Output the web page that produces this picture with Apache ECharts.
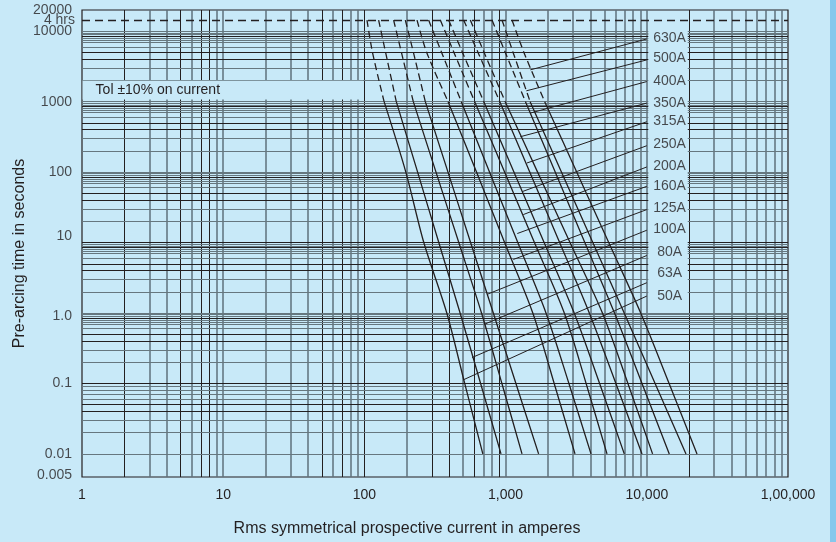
<!DOCTYPE html>
<html><head><meta charset="utf-8">
<script src="https://cdn.jsdelivr.net/npm/echarts@6/dist/echarts.min.js"></script>
<style>html,body{margin:0;padding:0;background:#c8e9f8;} #c{width:836px;height:542px;}</style>
</head><body><div id="c"></div>
<script>
// ---------- data ----------
const ratings = ['50A','63A','80A','100A','125A','160A','200A','250A','315A','350A','400A','500A','630A'];
const times = [14400, 5000, 1000, 100, 10, 1, 0.1, 0.01];   // pre-arcing time (s) at which currents are read
const c50  = [104.3,114.1,137.9,196.5,263.5,383.3,513.3,689.7];
const c63  = [126.1,141.3,168.2,238.2,336.4,476.1,665.3,927.8];
const c80  = [161.0,182.9,222.0,321.4,466.2,675.1,941.5,1307];
const c100 = [194.9,222.4,270.0,390.9,565.0,818.4,1183,1713];
const c125 = [235.9,276.2,391.5,622.2,983.8,1558,2209,3101];
const c160 = [284.9,352.2,485.5,769.1,1220,1932,2808,4025];
const c200 = [344.9,430.5,604.2,983.8,1600,2604,3717,5226];
const c250 = [394.7,495.1,700.9,1145,1874,3061,4633,6929];
const c315 = [504.2,637.7,909.8,1482,2413,3916,6042,9248];
const c350 = [562.3,704.3,993.6,1685,2858,4850,7348,10990];
const c400 = [801.3,995.2,1383,2245,3638,5906,9248,14430];
const c500 = [943.0,1130,1492,2485,4146,6918,11450,18950];
const c630 = [1110,1348,1892,3188,5374,9054,14390,22680];
const curves = [c50,c63,c80,c100,c125,c160,c200,c250,c315,c350,c400,c500,c630];
const dashedPoints = 3;   // first points of each curve drawn dashed

const labelCurrent = 14500;
const labelTimes = [1.739,3.643,7.30,15.66,31.06,62.85,123.4,250.5,523.4,953.9,1929,4140,7948];
const leaderStartCurrent = 10000;
const leaderStartTimes = [1.739,2.691,6.555,14.96,29.39,62.85,118.3,237.0,518.3,953.9,1929,3916,7767];
const leaderEndCurrents = [504.2,578.3,706.7,738.5,1134,1210,1335,1313,1418,1271,1496,1402,1496];
const leaderEndTimes = [0.1130,0.2332,0.6905,1.837,5.753,13.43,24.96,52.87,134.8,317.8,688.3,1424,2826];

const yTickValues = [20000,14400,10000,1000,100,10,1,0.1,0.01,0.005];
const yTickLabels = ['20000','4 hrs','10000','1000','100','10','1.0','0.1','0.01','0.005'];
const xTickValues = [1,10,100,1000,10000,100000];
const xTickLabels = ['1','10','100','1,000','10,000','1,00,000'];
const fourHours = 14400;
const tolText = 'Tol \u00b110% on current';
const xMin = 1, xMax = 100000, yMin = 0.0047, yMax = 20000;

// ---------- styles ----------
const INK = '#231f20', GREY = '#5f717d', BG = '#c8e9f8';
const FONT = 'Liberation Sans, Arial, sans-serif';

// grid lines (paper grid)
const vBlack = [2,5,7,8,50,70,100,300,400,600,900,20000];
const vLines = [];
for (let e = 0; e < 5; e++) {
  const d = Math.pow(10, e);
  for (let m = (e === 0 ? 2 : 1); m <= 9; m++) vLines.push(m * d);
}
const hMant = [2,3,4,5,6,7,7.5,8,8.5,9,9.5,10];
const hBlackMant = [4,5,8.5];
const hLines = [];
for (let e = -3; e <= 3; e++) {
  const d = Math.pow(10, e);
  hMant.forEach(m => {
    const v = +(m * d).toPrecision(6);
    if (v >= 0.0049 && v < 19999) hLines.push({v, black: hBlackMant.includes(m) || m === 10 && (e === -2 || e === 0)});
  });
}
const gridLineData = [];
vLines.forEach(v => {
  const b = vBlack.includes(v);
  gridLineData.push({xAxis: v, lineStyle: {color: b ? INK : GREY, width: b ? 1 : 1.5, type: 'solid'}});
});
hLines.forEach(h => {
  gridLineData.push({yAxis: h.v, lineStyle: {color: h.black ? INK : '#66777f', width: 1, type: 'solid'}});
});
gridLineData.push({yAxis: fourHours, lineStyle: {color: INK, width: 1.3, type: [8, 5]}});

const series = [];
series.push({
  type: 'line', data: [], z: 1, silent: true,
  markLine: {silent: true, symbol: ['none','none'], label: {show: false}, z: 1, animation: false, data: gridLineData}
});
// boxes masking the grid
series.push({
  type: 'line', data: [], z: 2, silent: true,
  markArea: {silent: true, z: 2, itemStyle: {color: BG},
    label: {show: true, position: 'insideLeft', distance: 13, color: INK, fontSize: 14, fontFamily: FONT},
    data: [
      [{name: tolText, xAxis: 1.01, yAxis: 1070}, {xAxis: 98, yAxis: 1975}],
      [{name: '', xAxis: 10250, yAxis: 1.03}, {xAxis: 19500, yAxis: 12000}]
    ]}
});
// curves
curves.forEach((c, i) => {
  const pts = times.map((t, k) => [c[k], t]);
  series.push({name: ratings[i] + ' dashed', type: 'line', z: 3, silent: true, showSymbol: false, smooth: 0.3,
    data: pts.slice(0, dashedPoints), lineStyle: {color: INK, width: 1.3, type: [7, 4]}});
  series.push({name: ratings[i], type: 'line', z: 3, silent: true, showSymbol: false, smooth: 0.3,
    data: pts.slice(dashedPoints - 1), lineStyle: {color: INK, width: 1.3}});
});
// leaders
series.push({
  type: 'line', data: [], z: 3, silent: true,
  markLine: {silent: true, symbol: ['none','none'], label: {show: false}, z: 3, animation: false,
    lineStyle: {color: INK, width: 1, type: 'solid'},
    data: ratings.map((r, i) => [{coord: [leaderStartCurrent, leaderStartTimes[i]]}, {coord: [leaderEndCurrents[i], leaderEndTimes[i]]}])}
});
// rating labels
series.push({
  type: 'scatter', z: 4, silent: true, symbolSize: 0,
  data: ratings.map((r, i) => ({name: r, value: [labelCurrent, labelTimes[i]]})),
  label: {show: true, position: 'inside', formatter: p => p.name, color: INK, fontSize: 14, fontFamily: FONT}
});
// y tick labels
series.push({
  type: 'scatter', z: 4, silent: true, symbolSize: 0, clip: false,
  data: yTickValues.map((v, i) => {
    const o = {name: yTickLabels[i], value: [xMin, v]};
    if (yTickLabels[i] === '4 hrs') o.label = {distance: 7, lineHeight: 12};
    if (yTickLabels[i] === '10') o.label = {offset: [0, -6]};
    if (yTickLabels[i] === '1.0') o.label = {offset: [0, 3]};
    return o;
  }),
  label: {show: true, position: 'left', distance: 10, formatter: p => p.name, color: INK, fontSize: 14, lineHeight: 14, fontFamily: FONT}
});

const chart = echarts.init(document.getElementById('c'));
chart.setOption({
  animation: false,
  backgroundColor: BG,
  grid: {left: 82, right: 48, top: 10, bottom: 64, show: true, borderColor: INK, borderWidth: 1.2, backgroundColor: 'transparent'},
  xAxis: {
    type: 'log', logBase: 10, min: xMin, max: xMax,
    splitLine: {show: false}, axisLine: {show: false}, axisTick: {show: false},
    axisLabel: {show: true, margin: 11, color: INK, fontSize: 14, fontFamily: FONT, showMaxLabel: true, showMinLabel: true,
      formatter: v => { const k = xTickValues.findIndex(t => Math.abs(t - v) / t < 1e-6); return k >= 0 ? xTickLabels[k] : ''; }},
    name: 'Rms symmetrical prospective current in amperes', nameLocation: 'middle', nameGap: 44,
    nameTextStyle: {color: INK, fontSize: 16, fontFamily: FONT, padding: [0, 56, 0, 0]}
  },
  yAxis: {
    type: 'log', logBase: 10, min: yMin, max: yMax,
    splitLine: {show: false}, axisLine: {show: false}, axisTick: {show: false}, axisLabel: {show: false},
    name: 'Pre-arcing time in seconds', nameLocation: 'middle', nameGap: 54, nameRotate: 90,
    nameTextStyle: {color: INK, fontSize: 16, fontFamily: FONT, padding: [0, 20, 0, 0]}
  },
  graphic: [{type: 'rect', right: 0, top: 0, shape: {width: 6, height: 542}, style: {fill: '#86c8ec'}, silent: true}],
  series
});
</script>
</body></html>
